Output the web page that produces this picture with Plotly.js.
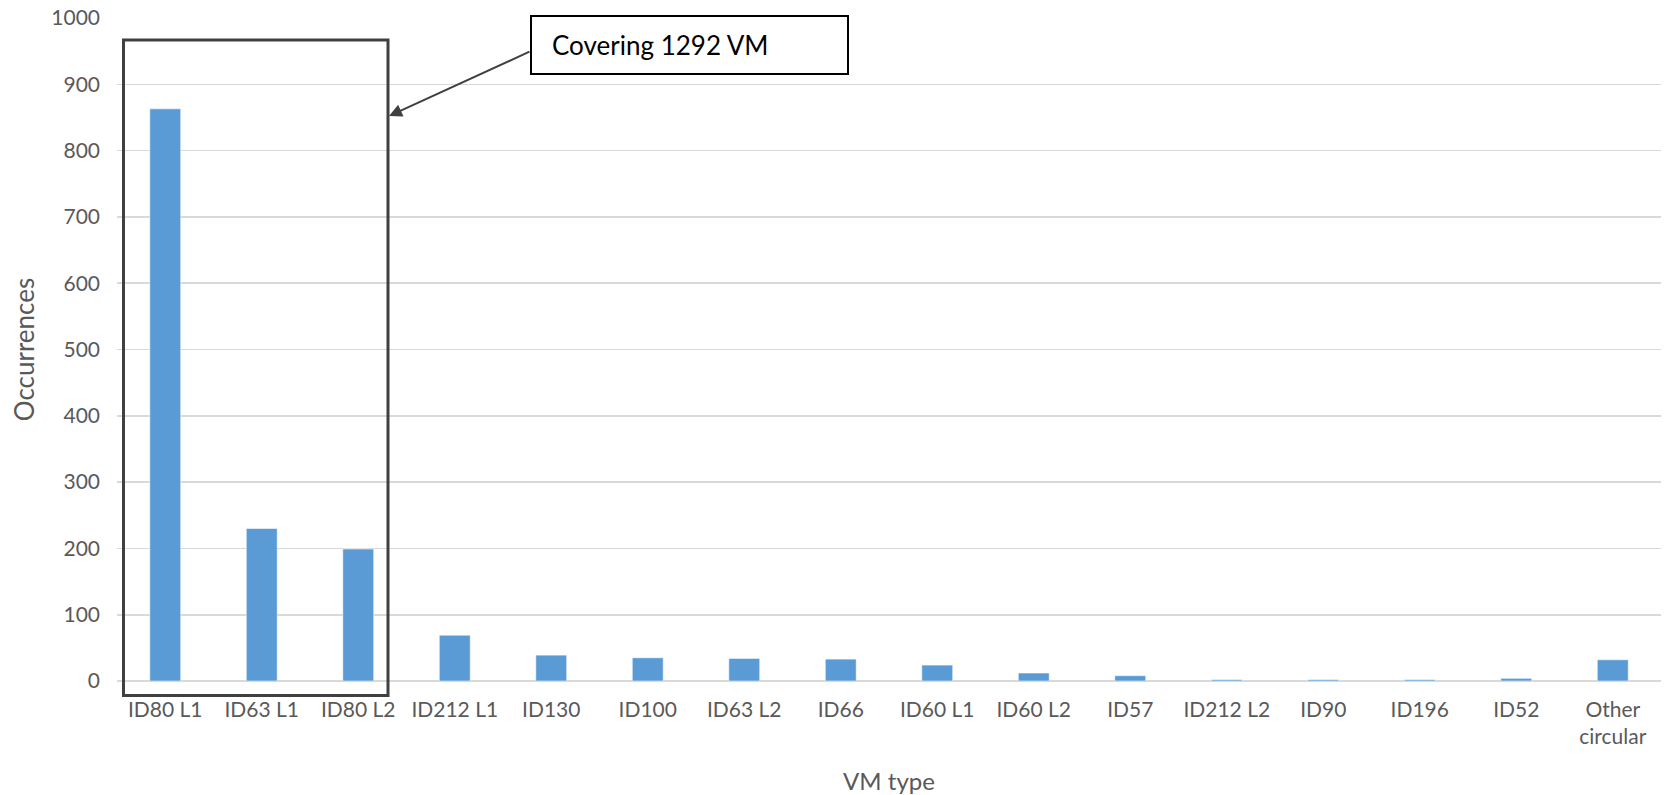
<!DOCTYPE html>
<html>
<head>
<meta charset="utf-8">
<script src="https://cdn.plot.ly/plotly-3.0.1.min.js"></script>
<style>html,body{margin:0;padding:0;background:#fff;}#chart{width:1669px;height:795px;}</style>
</head>
<body>
<div id="chart"></div>
<script>
const categories = ["ID80 L1","ID63 L1","ID80 L2","ID212 L1","ID130","ID100","ID63 L2","ID66","ID60 L1","ID60 L2","ID57","ID212 L2","ID90","ID196","ID52","Other<br>circular"];
const occurrences = [863, 230, 199, 69, 39, 35, 34, 33, 24, 12, 8, 2, 2, 2, 4, 32];
const yTicks = [0,100,200,300,400,500,600,700,800,900,1000];
const xTitle = "VM type";
const yTitle = "Occurrences";
const calloutText = "Covering 1292 VM";

const FONT = "Lato, 'Open Sans', sans-serif";
const W = 1669, H = 795;
const m = {l:117, r:8, t:18, b:114};
const pw = W - m.l - m.r, ph = H - m.t - m.b;
const px = x => (x - m.l) / pw;
const py = y => (H - m.b - y) / ph;

const trace = {
  type: 'bar',
  x: categories,
  y: occurrences,
  marker: {color: '#5B9BD5', line: {color: 'rgba(255,255,255,0.5)', width: 1}},
  hoverinfo: 'x+y'
};

const layout = {
  width: W, height: H,
  margin: m,
  paper_bgcolor: '#fff', plot_bgcolor: '#fff',
  showlegend: false,
  bargap: 0.68,
  font: {family: FONT, color: '#595959', size: 21},
  xaxis: {
    type: 'category',
    tickfont: {family: FONT, color: '#595959', size: 21},
    showgrid: false, showline: false, ticks: '',
    ticklabelstandoff: 14,
    title: {text: xTitle, font: {family: FONT, color: '#595959', size: 24}, standoff: 25}
  },
  yaxis: {
    range: [0, 1000],
    tickvals: yTicks,
    tickfont: {family: FONT, color: '#595959', size: 21},
    showgrid: true, gridcolor: '#D9D9D9', gridwidth: 1.6,
    zeroline: true, zerolinecolor: '#D9D9D9', zerolinewidth: 1.6,
    showline: false, ticks: '',
    ticklabelstandoff: 16,
    title: {text: yTitle, font: {family: FONT, color: '#595959', size: 26}, standoff: 9}
  },
  shapes: [
    {type: 'rect', xref: 'paper', yref: 'paper',
     x0: px(123.5), x1: px(388), y0: py(695.5), y1: py(40),
     line: {color: '#404040', width: 3}, fillcolor: 'rgba(0,0,0,0)'},
    {type: 'rect', xref: 'paper', yref: 'paper',
     x0: px(531), x1: px(848), y0: py(74), y1: py(16),
     line: {color: '#000000', width: 2}, fillcolor: '#ffffff'}
  ],
  annotations: [
    {xref: 'paper', yref: 'paper', x: px(389), y: py(116),
     ax: 142, ay: -65, axref: 'pixel', ayref: 'pixel',
     text: '', showarrow: true, arrowhead: 2, arrowsize: 1.3, arrowwidth: 2,
     arrowcolor: '#404040', standoff: 0},
    {xref: 'paper', yref: 'paper', x: px(550), y: py(45), xanchor: 'left', yanchor: 'middle',
     text: calloutText, showarrow: false,
     font: {family: FONT, color: '#000000', size: 26}}
  ]
};

Plotly.newPlot('chart', [trace], layout, {displayModeBar: false, staticPlot: true});
</script>
</body>
</html>
